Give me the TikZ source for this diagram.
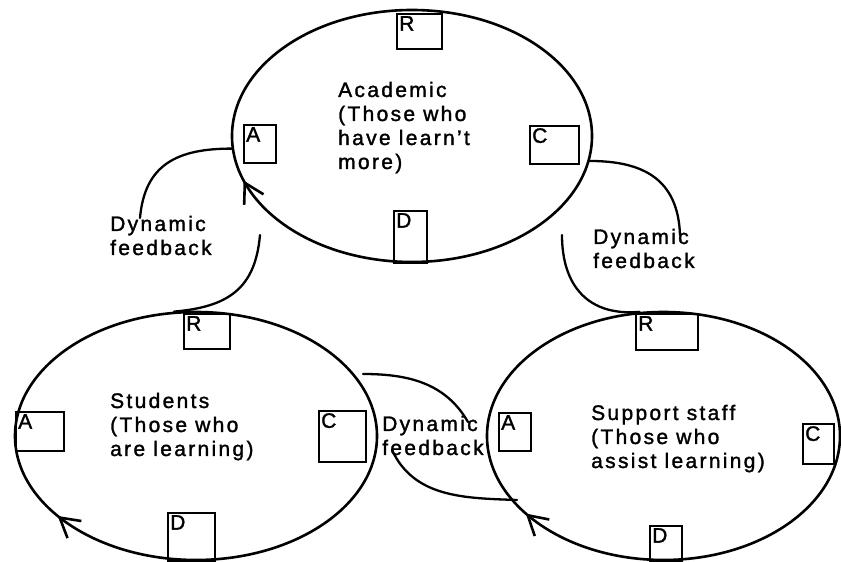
\documentclass[tikz,border=0pt]{standalone}
\usepackage{fontspec}
\setmainfont{Liberation Sans}[LetterSpace=11, FakeBold=1.5]
\usetikzlibrary{shapes.geometric,arrows.meta,decorations.markings}

\tikzset{
  ring/.style={draw, ellipse, line width=2.6pt, inner sep=0pt},
  flowtip/.style={postaction={decorate, decoration={markings,
      mark=at position #1 with {\arrowreversed[line width=2.6pt]{Straight Barb[length=19pt,width=22pt]}}}}},
  square/.style={draw, rectangle, line width=1.8pt, inner sep=0pt, anchor=north west},
  tag/.style={anchor=north west, inner sep=3pt},
  blurb/.style={anchor=base west, align=left, inner sep=0pt},
  loop/.style={line width=2.3pt, line cap=round}
}

\begin{document}
\begin{tikzpicture}[x=1pt, y=1pt, font=\fontsize{21}{24}\selectfont]
\useasboundingbox (0,0) rectangle (841,562);

% the three groups
\node[ring, flowtip=0.548, minimum width=360pt, minimum height=252pt] (acad) at (412,426) {};
\node[ring, flowtip=0.597, minimum width=362pt, minimum height=248pt] (stud) at (196,126) {};
\node[ring, flowtip=0.594, minimum width=353pt, minimum height=248pt] (supp) at (663.5,126) {};

% Academic boxes
\node[square, minimum width=45pt, minimum height=35pt] (acR) at (396,549) {};
\node[square, minimum width=32pt, minimum height=38pt] (acA) at (243,438) {};
\node[square, minimum width=49pt, minimum height=38pt] (acC) at (529,437) {};
\node[square, minimum width=33pt, minimum height=52pt] (acD) at (393,352) {};
\node[tag] (acRt) at (acR.north west) {R};
\node[tag] (acAt) at (acA.north west) {A};
\node[tag] (acCt) at (acC.north west) {C};
\node[tag] (acDt) at (acD.north west) {D};

% Students boxes
\node[square, minimum width=46pt, minimum height=35pt] (stR) at (183,249) {};
\node[square, minimum width=48pt, minimum height=39pt] (stA) at (15,151) {};
\node[square, minimum width=47pt, minimum height=51pt] (stC) at (318,152) {};
\node[square, minimum width=47pt, minimum height=48pt] (stD) at (167,50) {};
\node[tag] (stRt) at (stR.north west) {R};
\node[tag] (stAt) at (stA.north west) {A};
\node[tag] (stCt) at (stC.north west) {C};
\node[tag] (stDt) at (stD.north west) {D};

% Support staff boxes
\node[square, minimum width=62pt, minimum height=36pt] (suR) at (635,249) {};
\node[square, minimum width=32pt, minimum height=38pt] (suA) at (498,150) {};
\node[square, minimum width=31pt, minimum height=40pt] (suC) at (802,139) {};
\node[square, minimum width=32pt, minimum height=35pt] (suD) at (649,37) {};
\node[tag] (suRt) at (suR.north west) {R};
\node[tag] (suAt) at (suA.north west) {A};
\node[tag] (suCt) at (suC.north west) {C};
\node[tag] (suDt) at (suD.north west) {D};

% group descriptions (anchored at the baseline of the last line)
\node[blurb] (acText) at (338,393) {Academic\\(Those who\\have learn't\\more)};
\node[blurb] (stText) at (110,106) {Students\\(Those who\\are learning)};
\node[blurb] (suText) at (591,94) {Support staff\\(Those who\\assist learning)};

% feedback labels
\node[blurb] (fbLeft) at (110,307) {Dynamic\\feedback};
\node[blurb] (fbRight) at (593,294) {Dynamic\\feedback};
\node[blurb] (fbMid) at (382,107) {Dynamic\\feedback};

% feedback loops
\coordinate (lfEnd) at (140,344);
\coordinate (lfStart) at (260,327);
\coordinate (rfEnd) at (680,327);
\coordinate (rfStart) at (562,327);
\coordinate (mfStart) at (363,188);
\coordinate (mfEnd) at (468,140);
\coordinate (mfStart2) at (392,112);
\coordinate (mfEnd2) at (517,62);

\draw[loop] (acad.184) to[out=180, in=85, looseness=1.2] (lfEnd);
\draw[loop] (lfStart) to[out=265, in=5, looseness=1.2] (stud.100);
\draw[loop] (acad.352) to[out=0, in=92, looseness=1.2] (rfEnd);
\draw[loop] (rfStart) to[out=270, in=185, looseness=1.2] (supp.101);
\draw[loop] (mfStart) to[out=0, in=120] (mfEnd);
\draw[loop] (mfStart2) to[out=295, in=178] (mfEnd2);
\end{tikzpicture}
\end{document}
